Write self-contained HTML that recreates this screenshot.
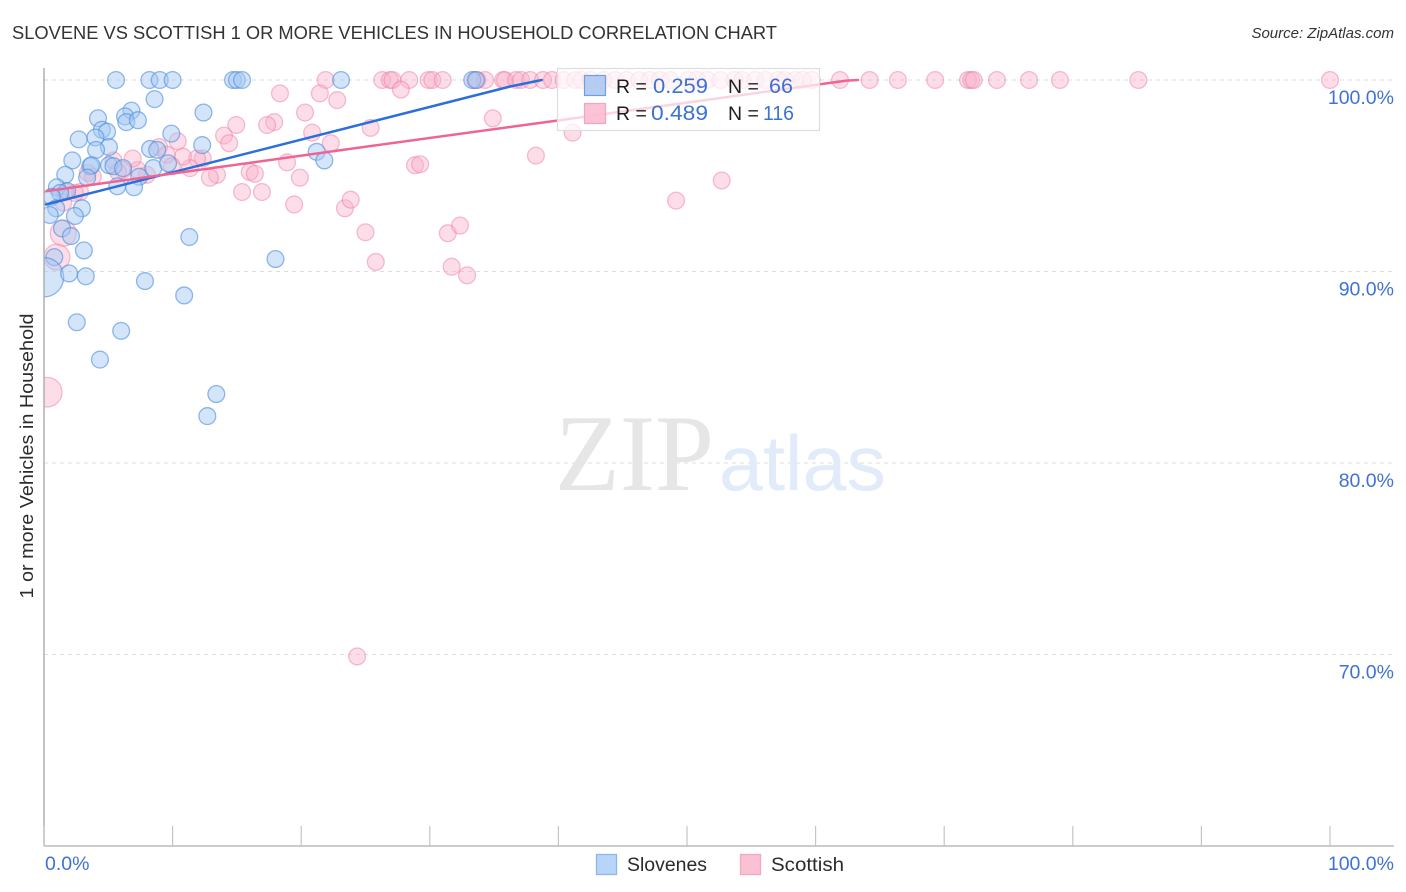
<!DOCTYPE html>
<html>
<head>
<meta charset="utf-8">
<title>Slovene vs Scottish correlation chart</title>
<style>
html,body{margin:0;padding:0;background:#fff;}
svg{display:block;font-family:"Liberation Sans",sans-serif;}
</style>
</head>
<body>
<svg id="chart" xmlns="http://www.w3.org/2000/svg" width="1406" height="892" viewBox="0 0 1406 892">
  <text x="12" y="39" font-size="18.5" fill="#333333" textLength="765" lengthAdjust="spacingAndGlyphs">SLOVENE VS SCOTTISH 1 OR MORE VEHICLES IN HOUSEHOLD CORRELATION CHART</text>
  <text x="1394" y="38" font-size="15" font-style="italic" fill="#333" text-anchor="end">Source: ZipAtlas.com</text>

  <g id="grid"></g>

  <g>
    <text x="555" y="490" font-family="'Liberation Serif',serif" font-size="109" fill="#e6e6e6" textLength="159" lengthAdjust="spacingAndGlyphs">ZIP</text>
    <text x="719" y="490" font-size="78" fill="#e1ebf9" textLength="167" lengthAdjust="spacingAndGlyphs">atlas</text>
  </g>

  <g id="points"></g>
  <rect x="0" y="60" width="44" height="786" fill="#ffffff"></rect>
  <g id="axes"></g>
  <g id="trends"></g>

  <g>
    <rect x="557.5" y="68.5" width="262" height="62" fill="#fff" fill-opacity="0.72" stroke="#dddddd" stroke-width="1.2"></rect>
    <rect x="584.5" y="75.5" width="21" height="20" fill="#a9c4ee" fill-opacity="0.85" stroke="#6f9fe0" stroke-width="1.2"></rect>
    <rect x="584.5" y="103.5" width="21" height="20" fill="#fbbdd0" fill-opacity="0.9" stroke="#f4a5be" stroke-width="1.2"></rect>
    <text x="616" y="93" font-size="19.5" fill="#1d1d1d">R =</text>
    <text x="653" y="93" font-size="21.5" fill="#3b72d4" textLength="55" lengthAdjust="spacingAndGlyphs">0.259</text>
    <text x="728" y="93" font-size="19.5" fill="#1d1d1d">N =</text>
    <text x="769" y="93" font-size="21.5" fill="#3b72d4" textLength="24" lengthAdjust="spacingAndGlyphs">66</text>
    <text x="616" y="120" font-size="19.5" fill="#1d1d1d">R =</text>
    <text x="651" y="120" font-size="21.5" fill="#3b72d4" textLength="57" lengthAdjust="spacingAndGlyphs">0.489</text>
    <text x="728" y="120" font-size="19.5" fill="#1d1d1d">N =</text>
    <text x="763" y="120" font-size="20" fill="#3b72d4" textLength="31" lengthAdjust="spacingAndGlyphs">116</text>
  </g>

  <text transform="translate(33,456) rotate(-90)" font-size="18.5" fill="#2b2b2b" text-anchor="middle" textLength="285" lengthAdjust="spacingAndGlyphs">1 or more Vehicles in Household</text>

  <g>
    <rect x="596.5" y="854.5" width="20" height="20" fill="#b7d5f9" stroke="#8db6ea" stroke-width="1.3"></rect>
    <text x="627" y="871" font-size="19" fill="#2b2b2b" textLength="80" lengthAdjust="spacingAndGlyphs">Slovenes</text>
    <rect x="740.5" y="854.5" width="20" height="20" fill="#fac1d2" stroke="#f3a9be" stroke-width="1.3"></rect>
    <text x="771" y="871" font-size="19" fill="#2b2b2b" textLength="73" lengthAdjust="spacingAndGlyphs">Scottish</text>
  </g>
</svg>
<script>
const yTicks = [100, 90, 80, 70];
const yTickLabels = ["100.0%", "90.0%", "80.0%", "70.0%"];
const xTicks = [0, 10, 20, 30, 40, 50, 60, 70, 80, 90, 100];
const xEndLabels = ["0.0%", "100.0%"];

const sloveneX = [5.6,8.2,9.0,10.0,14.7,15.0,15.4,23.1,33.3,33.6,8.6,12.4,6.8,6.3,6.4,7.3,4.2,4.5,4.9,2.7,4.0,9.9,12.3,5.05,4.05,8.25,8.8,2.2,3.6,3.7,5.05,5.4,6.15,8.5,9.65,7.4,21.2,21.8,1.65,3.35,5.7,7.0,1.0,1.8,1.25,0.6,0.95,2.95,2.4,0.45,1.4,2.1,3.1,0.8,0,1.95,3.25,7.85,10.9,11.3,18.0,2.55,6.0,4.35,13.4,12.7];
const sloveneY = [100,100,100,100,100,100,100,100,100,100,99.0,98.3,98.4,98.1,97.8,97.9,98.0,97.4,97.3,96.9,97.0,97.2,96.6,96.5,96.35,96.4,96.35,95.8,95.5,95.55,95.55,95.5,95.4,95.4,95.65,94.95,96.25,95.8,95.05,94.9,94.45,94.4,94.4,94.2,94.1,93.9,93.3,93.3,92.9,92.95,92.25,91.85,91.1,90.75,89.7,89.9,89.75,89.5,88.75,91.8,90.65,87.35,86.9,85.4,83.6,82.45];
const sloveneWeight = [1,1,1,1,1,1,1,1,1,1,1,1,1,1,1,1,1,1,1,1,1,1,1,1,1,1,1,1,1,1,1,1,1,1,1,1,1,1,1,1,1,1,1,1,1,1,1,1,1,1,1,1,1,1,5.5,1,1,1,1,1,1,1,1,1,1,1];

const scottishX = [21.9,26.3,26.9,27.1,28.4,29.9,30.2,31.0,33.5,33.7,34.3,35.7,35.85,36.7,37.1,37.8,38.8,39.5,40.4,41.3,41.8,42.5,43.5,44.4,45.3,46.3,47.1,47.9,48.7,50.1,50.8,51.6,52.6,53.7,54.3,55.3,56.1,57.1,57.6,58.4,59.0,59.7,61.9,64.2,66.4,69.3,71.85,72.1,72.3,74.1,76.6,79.0,85.1,100,18.35,21.45,22.8,20.3,17.9,17.35,14.95,14.0,14.4,20.85,22.3,18.9,19.9,19.45,23.4,23.85,16.95,15.4,16.0,16.4,13.45,12.9,12.35,11.9,11.35,10.8,10.4,8.95,9.55,9.95,8.0,7.3,6.9,6.15,5.4,3.4,3.8,2.8,2.4,1.65,1.5,1.5,1.0,0.25,25.4,27.75,28.85,29.25,25.0,25.8,31.4,32.35,31.7,32.9,34.9,38.25,41.1,49.15,52.7,24.35,5.75,4.65];
const scottishY = [100,100,100,100,100,100,100,100,100,100,100,100,100,100,100,100,100,100,100,100,100,100,100,100,100,100,100,100,100,100,100,100,100,100,100,100,100,100,100,100,100,100,100,100,100,100,100,100,100,100,100,100,100,100,99.3,99.3,98.95,98.3,97.8,97.65,97.65,97.1,96.7,97.25,96.7,95.7,94.9,93.5,93.3,93.75,94.15,94.15,95.2,95.1,95.05,94.9,95.9,95.9,95.4,96.0,96.8,96.5,96.1,95.5,95.05,95.3,95.9,95.3,95.8,95.15,94.95,94.15,94.1,94.15,93.6,92.0,90.75,83.7,97.5,99.5,95.55,95.6,92.05,90.5,92.0,92.4,90.25,89.8,98.0,96.05,97.25,93.7,94.75,69.9,95.2,94.9];
const scottishWeight = [1,1,1,1,1,1,1,1,1,1,1,1,1,1,1,1,1,1,1,1,1,1,1,1,1,1,1,1,1,1,1,1,1,1,1,1,1,1,1,1,1,1,1,1,1,1,1,1,1,1,1,1,1,1,1,1,1,1,1,1,1,1,1,1,1,1,1,1,1,1,1,1,1,1,1,1,1,1,1,1,1,1,1,1,1,1,1,1,1,1,1,1,1,1,1,2.4,2.4,3.1,1,1,1,1,1,1,1,1,1,1,1,1,1,1,1,1,1];

const sloveneTrendX = [0.15, 36.25, 38.7];
const sloveneTrendY = [93.5, 99.66, 100];
const scottishTrendX = [0.2, 23.8, 40.1, 62.4, 63.3];
const scottishTrendY = [94.2, 96.4, 97.9, 99.97, 100];

const SVG_NS = "http://www.w3.org/2000/svg";
const xScale = v => 44 + v * 12.86;
const yScale = v => 80 + (100 - v) * 19.15;
const rScale = w => 8.4 * Math.sqrt(w);
const make = (tag, attrs) => {
  const el = document.createElementNS(SVG_NS, tag);
  for (const k in attrs) el.setAttribute(k, attrs[k]);
  return el;
};
const gridG = document.getElementById("grid");
const axesG = document.getElementById("axes");
const pointsG = document.getElementById("points");
const trendsG = document.getElementById("trends");

yTicks.forEach((t, i) => {
  const line = make("line", {x1: 44, x2: 1394, y1: yScale(t), y2: yScale(t), stroke: "#dddddd", "stroke-width": 1, "stroke-dasharray": "4 4"});
  
  
  gridG.appendChild(line);
  const label = make("text", {x: 1394, y: yScale(t) + 24, "font-size": 19.5, fill: "#3f72d2", "text-anchor": "end"});
  
  
  label.textContent = yTickLabels[i];
  axesG.appendChild(label);
});

const yAxis = make("line", {x1: 44, x2: 44, y1: 68, y2: 846, stroke: "#aaaaaa", "stroke-width": 1.4});


axesG.appendChild(yAxis);
const xAxis = make("line", {x1: 44, x2: 1394, y1: 846, y2: 846, stroke: "#bbbbbb", "stroke-width": 1.4});


axesG.appendChild(xAxis);
xTicks.forEach(t => {
  const tick = make("line", {x1: xScale(t), x2: xScale(t), y1: 826, y2: 846, stroke: "#c4c4c4", "stroke-width": 1.2});
  
  
  axesG.appendChild(tick);
});
const xLabelLeft = make("text", {x: 45, y: 870, "font-size": 19.5, fill: "#3f72d2"});


xLabelLeft.textContent = xEndLabels[0];
axesG.appendChild(xLabelLeft);
const xLabelRight = make("text", {x: 1394, y: 870, "font-size": 19.5, fill: "#3f72d2", "text-anchor": "end"});


xLabelRight.textContent = xEndLabels[1];
axesG.appendChild(xLabelRight);

scottishX.forEach((x, i) => {
  const c = make("circle", {cx: xScale(x), cy: yScale(scottishY[i]), r: rScale(scottishWeight[i]), fill: "#fbb0c8", "fill-opacity": 0.42, stroke: "#ee7ea3", "stroke-opacity": 0.5, "stroke-width": 1.3});
  
  
  pointsG.appendChild(c);
});
sloveneX.forEach((x, i) => {
  const c = make("circle", {cx: xScale(x), cy: yScale(sloveneY[i]), r: rScale(sloveneWeight[i]), fill: "#a5c9f4", "fill-opacity": 0.48, stroke: "#4a8cdc", "stroke-opacity": 0.6, "stroke-width": 1.3});
  
  
  pointsG.appendChild(c);
});

const pathOf = (xs, ys) => xs.map((x, i) => (i ? "L" : "M") + xScale(x).toFixed(1) + " " + yScale(ys[i]).toFixed(1)).join(" ");
const sloveneLine = make("path", {d: pathOf(sloveneTrendX, sloveneTrendY), fill: "none", stroke: "#2c6fdc", "stroke-width": 2.5, "stroke-linecap": "round"});


trendsG.appendChild(sloveneLine);
const scottishLine = make("path", {d: pathOf(scottishTrendX, scottishTrendY), fill: "none", stroke: "#ee6595", "stroke-width": 2.5, "stroke-linecap": "round"});


trendsG.appendChild(scottishLine);
</script>
</body>
</html>
